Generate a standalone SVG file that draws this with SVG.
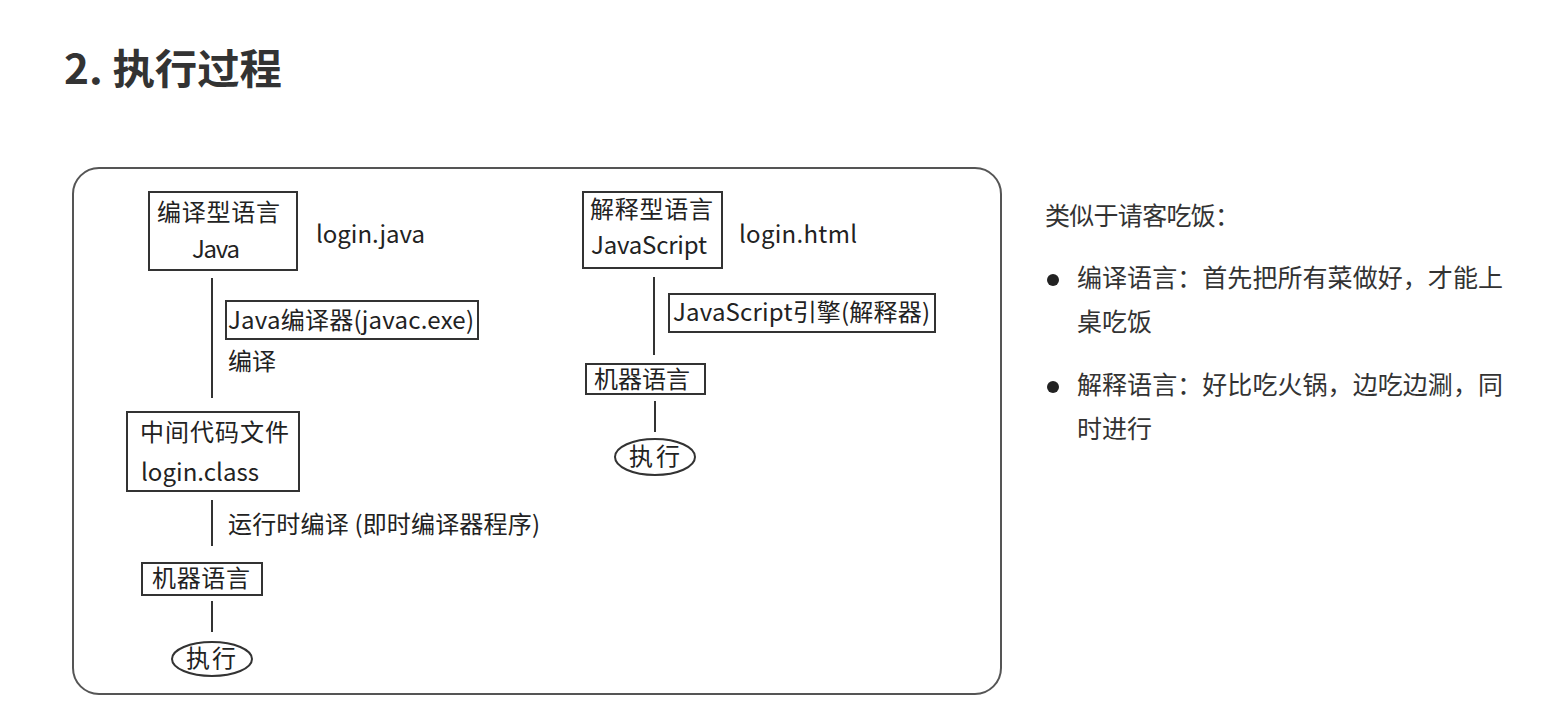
<svg xmlns="http://www.w3.org/2000/svg" width="1553" height="706" viewBox="0 0 1553 706">
<style>
text{font-family:"Noto Sans CJK SC","Noto Sans",sans-serif;fill:#222}
.t{font-size:24px}
.n{fill:#fff;stroke:#333;stroke-width:2}
.c{stroke:#333;stroke-width:2;fill:none}
.r{font-size:25px;fill:#333}
</style>
<rect width="1553" height="706" fill="#fff"/>
<text x="64" y="84" textLength="218" lengthAdjust="spacingAndGlyphs" style="font-size:41px;font-weight:bold;fill:#333">2. 执行过程</text>
<rect id="frame" x="73" y="168" width="928" height="526" rx="26" fill="none" stroke="#555" stroke-width="2"/>
<g id="connectors">
<line class="c" x1="212" y1="278" x2="212" y2="398"/>
<line class="c" x1="212" y1="500" x2="212" y2="546"/>
<line class="c" x1="212" y1="601" x2="212" y2="632"/>
<line class="c" x1="654" y1="277" x2="654" y2="355"/>
<line class="c" x1="655" y1="401" x2="655" y2="432"/>
</g>
<g id="java">
<rect class="n" x="149" y="192" width="148" height="78"/>
<text class="t" x="157" y="221" textLength="123">编译型语言</text>
<text class="t" x="192" y="258" textLength="48">Java</text>
</g>
<text id="loginjava" x="316" y="243" textLength="109" style="font-size:24px">login.java</text>
<g id="javac">
<rect class="n" x="226" y="301" width="252" height="38"/>
<text class="t" x="228" y="329" textLength="246">Java编译器(javac.exe)</text>
</g>
<text id="compile" class="t" x="228" y="370" textLength="48">编译</text>
<g id="class">
<rect class="n" x="127" y="412" width="172" height="79"/>
<text class="t" x="140" y="441" textLength="149">中间代码文件</text>
<text class="t" x="141" y="481" textLength="118">login.class</text>
</g>
<text id="jit" class="t" x="228" y="533" textLength="312">运行时编译 (即时编译器程序)</text>
<g id="machine1">
<rect class="n" x="142" y="563" width="120" height="32"/>
<text class="t" x="152" y="587" textLength="98">机器语言</text>
</g>
<g id="exec1">
<ellipse class="n" cx="212" cy="659" rx="40" ry="17"/>
<text class="t" x="186" y="667" textLength="50">执行</text>
</g>
<g id="js">
<rect class="n" x="583" y="192" width="139" height="76"/>
<text class="t" x="590" y="218" textLength="123">解释型语言</text>
<text class="t" x="591" y="254" textLength="116">JavaScript</text>
</g>
<text id="loginhtml" x="739" y="243" textLength="118" style="font-size:24px">login.html</text>
<g id="engine">
<rect class="n" x="669" y="294" width="266" height="38"/>
<text class="t" x="673" y="321" textLength="257">JavaScript引擎(解释器)</text>
</g>
<g id="machine2">
<rect class="n" x="586" y="364" width="119" height="30"/>
<text class="t" x="594" y="388" textLength="96">机器语言</text>
</g>
<g id="exec2">
<ellipse class="n" cx="655" cy="457" rx="40" ry="18"/>
<text class="t" x="629" y="465" textLength="51">执行</text>
</g>
<g id="notes">
<text class="r" x="1045" y="225" textLength="195">类似于请客吃饭：</text>
<circle cx="1053" cy="280" r="6" fill="#222"/>
<text class="r" x="1077" y="287" textLength="426">编译语言：首先把所有菜做好，才能上</text>
<text class="r" x="1077" y="331" textLength="75">桌吃饭</text>
<circle cx="1053" cy="387" r="6" fill="#222"/>
<text class="r" x="1077" y="394" textLength="426">解释语言：好比吃火锅，边吃边涮，同</text>
<text class="r" x="1077" y="438" textLength="75">时进行</text>
</g>
</svg>
